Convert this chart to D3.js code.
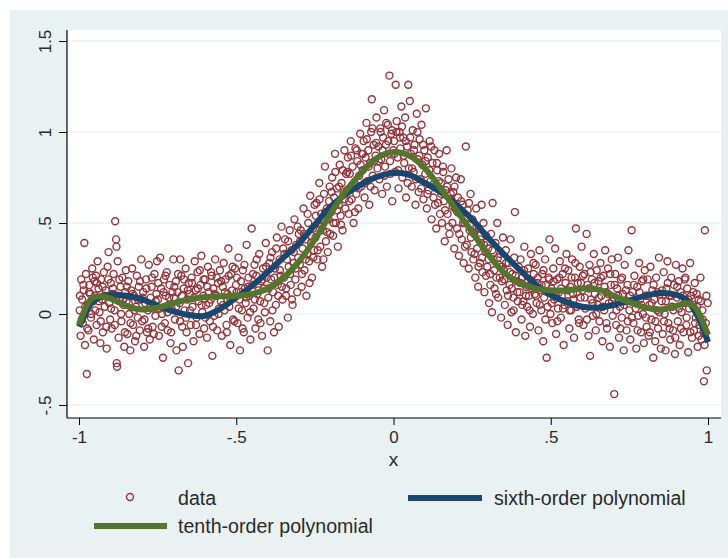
<!DOCTYPE html>
<html><head><meta charset="utf-8">
<script src="https://cdn.jsdelivr.net/npm/d3@7"></script>
<style>html,body{margin:0;padding:0;background:#fff}</style>
</head><body>
<svg id="chart" width="728" height="558"></svg>
<script>
// ---- data ----
const xTicks = [-1, -0.5, 0, 0.5, 1];
const xTickLabels = ["-1", "-.5", "0", ".5", "1"];
const yTicks = [-0.5, 0, 0.5, 1, 1.5];
const yTickLabels = ["-.5", "0", ".5", "1", "1.5"];
const xTitle = "x";
const legendLabels = ["data", "sixth-order polynomial", "tenth-order polynomial"];

const sixthX = [-1.0,-0.98,-0.96,-0.93,-0.9,-0.85,-0.8,-0.75,-0.7,-0.65,-0.6,-0.55,-0.5,-0.45,-0.4,-0.35,-0.3,-0.25,-0.2,-0.15,-0.1,-0.05,0,0.05,0.1,0.15,0.2,0.25,0.3,0.35,0.4,0.45,0.5,0.55,0.6,0.65,0.7,0.75,0.8,0.85,0.9,0.93,0.96,0.98,1.0];
const sixthY = [-0.07,0.0,0.06,0.095,0.105,0.10,0.08,0.045,0.015,-0.005,-0.01,0.03,0.09,0.155,0.23,0.31,0.39,0.49,0.59,0.66,0.715,0.755,0.775,0.765,0.72,0.67,0.60,0.52,0.42,0.33,0.245,0.165,0.105,0.065,0.04,0.035,0.05,0.075,0.10,0.115,0.105,0.08,0.01,-0.06,-0.155];
const tenthX = [-1.0,-0.98,-0.96,-0.94,-0.9,-0.85,-0.8,-0.75,-0.7,-0.65,-0.6,-0.55,-0.5,-0.45,-0.4,-0.35,-0.3,-0.25,-0.2,-0.15,-0.1,-0.05,0,0.05,0.1,0.15,0.2,0.25,0.3,0.35,0.4,0.45,0.5,0.55,0.6,0.65,0.7,0.75,0.8,0.85,0.9,0.93,0.96,0.98,1.0];
const tenthY = [-0.06,0.03,0.085,0.097,0.085,0.045,0.025,0.035,0.06,0.08,0.093,0.097,0.10,0.11,0.14,0.20,0.29,0.41,0.55,0.68,0.78,0.86,0.89,0.87,0.80,0.69,0.57,0.45,0.33,0.23,0.17,0.14,0.13,0.13,0.14,0.135,0.10,0.065,0.035,0.025,0.045,0.06,0.035,-0.03,-0.115];

// scattered observations (outer spread)
const pointsSpread = [
[-0.998,0.02],[-0.995,-0.12],[-0.993,0.19],[-0.99,0.08],[-0.988,-0.05],[-0.985,0.13],[-0.983,0.39],[-0.981,-0.17],[-0.978,0.22],[-0.975,-0.33],[-0.972,0.05],[-0.97,-0.09],[-0.967,0.16],[-0.964,0.11],[-0.962,-0.02],[-0.958,0.25],[-0.955,0.07],[-0.953,-0.14],[-0.951,0.18],
[-0.949,0.1],[-0.946,0.21],[-0.944,-0.06],[-0.941,0.29],[-0.938,0.14],[-0.935,0.01],[-0.932,-0.16],[-0.93,0.19],[-0.927,0.08],[-0.924,-0.1],[-0.921,0.23],[-0.918,0.04],[-0.915,0.13],[-0.912,-0.19],[-0.909,0.26],[-0.906,0.34],[-0.904,0.06],[-0.901,-0.03],
[-0.899,0.17],[-0.896,-0.08],[-0.893,0.11],[-0.89,0.22],[-0.887,0.02],[-0.885,0.51],[-0.882,0.41],[-0.881,0.37],[-0.88,-0.27],[-0.879,-0.29],[-0.877,0.29],[-0.874,-0.13],[-0.871,0.09],[-0.868,0.15],[-0.865,-0.04],[-0.862,0.2],[-0.859,0.05],[-0.856,-0.18],[-0.853,0.12],[-0.851,0.24],
[-0.849,0.07],[-0.846,-0.11],[-0.843,0.18],[-0.84,0.0],[-0.837,-0.2],[-0.834,0.13],[-0.831,0.25],[-0.828,-0.06],[-0.825,0.1],[-0.822,-0.15],[-0.819,0.04],[-0.816,0.21],[-0.813,-0.02],[-0.81,0.15],[-0.807,-0.09],[-0.804,0.08],[-0.802,0.3],
[-0.799,-0.04],[-0.796,0.12],[-0.793,-0.18],[-0.79,0.06],[-0.787,0.19],[-0.784,-0.1],[-0.781,0.02],[-0.778,0.27],[-0.775,-0.14],[-0.772,0.09],[-0.769,0.15],[-0.766,-0.07],[-0.763,0.03],[-0.76,0.22],[-0.757,-0.01],[-0.754,0.11],[-0.752,0.29],
[-0.749,0.08],[-0.746,-0.12],[-0.742,0.31],[-0.739,0.14],[-0.736,0.0],[-0.733,-0.24],[-0.73,0.19],[-0.727,-0.05],[-0.724,0.1],[-0.721,0.23],[-0.718,-0.09],[-0.715,0.05],[-0.712,0.16],[-0.709,-0.16],[-0.706,0.03],[-0.703,0.12],[-0.7,0.3],
[-0.698,0.09],[-0.695,-0.03],[-0.692,0.18],[-0.69,-0.2],[-0.687,0.12],[-0.683,-0.31],[-0.68,0.06],[-0.678,0.3],[-0.675,0.21],[-0.672,-0.07],[-0.67,-0.18],[-0.667,0.14],[-0.664,0.02],[-0.661,0.25],[-0.658,-0.1],[-0.655,0.08],[-0.653,-0.27],[-0.651,0.17],
[-0.648,0.11],[-0.645,-0.06],[-0.642,0.2],[-0.639,0.04],[-0.636,-0.15],[-0.632,0.29],[-0.629,0.13],[-0.626,-0.02],[-0.623,0.23],[-0.62,0.07],[-0.617,-0.11],[-0.614,0.16],[-0.611,0.32],[-0.608,0.01],[-0.605,0.1],[-0.602,-0.08],
[-0.599,0.19],[-0.596,0.05],[-0.593,-0.13],[-0.59,0.26],[-0.587,0.12],[-0.584,-0.04],[-0.581,0.08],[-0.578,0.21],[-0.576,-0.23],[-0.573,0.14],[-0.57,-0.01],[-0.567,0.3],[-0.564,0.1],[-0.561,-0.09],[-0.558,0.17],[-0.555,0.03],[-0.552,0.24],
[-0.549,0.07],[-0.546,-0.12],[-0.543,0.15],[-0.54,0.28],[-0.537,0.02],[-0.534,0.19],[-0.531,-0.06],[-0.528,0.11],[-0.525,0.36],[-0.522,0.04],[-0.519,-0.17],[-0.516,0.22],[-0.513,0.13],[-0.51,-0.03],[-0.507,0.09],[-0.504,0.25],[-0.501,0.16],
[-0.499,0.12],[-0.496,-0.05],[-0.493,0.31],[-0.49,0.08],[-0.488,-0.2],[-0.485,0.18],[-0.482,0.02],[-0.479,0.24],[-0.476,-0.1],[-0.473,0.14],[-0.47,0.06],[-0.467,0.38],[-0.464,-0.02],[-0.461,0.2],[-0.458,0.1],[-0.455,-0.14],[-0.451,0.47],
[-0.448,0.16],[-0.445,0.03],[-0.442,0.27],[-0.439,-0.08],[-0.436,0.21],[-0.433,0.11],[-0.43,-0.03],[-0.427,0.33],[-0.424,0.07],[-0.421,0.18],[-0.418,-0.12],[-0.415,0.25],[-0.412,0.14],[-0.409,0.01],[-0.406,0.39],[-0.403,0.2],[-0.4,-0.2],
[-0.398,0.09],[-0.395,0.28],[-0.392,-0.04],[-0.389,0.19],[-0.386,0.34],[-0.383,0.12],[-0.38,-0.1],[-0.377,0.25],[-0.374,0.05],[-0.371,0.42],[-0.368,0.16],[-0.365,-0.07],[-0.362,0.3],[-0.359,0.21],[-0.356,0.48],[-0.353,0.08],[-0.351,0.36],
[-0.348,0.2],[-0.345,0.41],[-0.342,0.1],[-0.339,0.3],[-0.336,-0.02],[-0.333,0.26],[-0.33,0.46],[-0.327,0.16],[-0.324,0.35],[-0.321,0.05],[-0.318,0.28],[-0.315,0.52],[-0.312,0.19],[-0.309,0.38],[-0.306,0.12],[-0.303,0.31],[-0.301,0.44],
[-0.298,0.27],[-0.295,0.46],[-0.292,0.15],[-0.289,0.36],[-0.286,0.58],[-0.283,0.24],[-0.28,0.41],[-0.277,0.1],[-0.274,0.33],[-0.271,0.5],[-0.268,0.29],[-0.265,0.65],[-0.262,0.39],[-0.259,0.2],[-0.256,0.47],[-0.253,0.35],[-0.251,0.6],
[-0.248,0.42],[-0.245,0.61],[-0.242,0.3],[-0.239,0.5],[-0.236,0.72],[-0.233,0.37],[-0.23,0.55],[-0.227,0.26],[-0.224,0.46],[-0.221,0.66],[-0.218,0.81],[-0.215,0.4],[-0.212,0.58],[-0.209,0.34],[-0.206,0.52],[-0.203,0.7],[-0.201,0.44],
[-0.198,0.56],[-0.195,0.75],[-0.192,0.43],[-0.189,0.64],[-0.186,0.88],[-0.183,0.5],[-0.18,0.69],[-0.177,0.37],[-0.174,0.6],[-0.171,0.82],[-0.168,0.54],[-0.165,0.72],[-0.162,0.46],[-0.159,0.66],[-0.156,0.9],[-0.153,0.58],[-0.151,0.77],
[-0.148,0.68],[-0.145,0.86],[-0.142,0.55],[-0.139,0.77],[-0.136,0.95],[-0.133,0.63],[-0.13,0.81],[-0.127,0.5],[-0.124,0.72],[-0.121,0.91],[-0.118,0.66],[-0.115,0.84],[-0.112,0.58],[-0.109,0.76],[-0.106,0.99],[-0.103,0.7],[-0.101,0.88],
[-0.098,0.79],[-0.095,0.95],[-0.092,0.64],[-0.089,0.86],[-0.086,1.05],[-0.083,0.73],[-0.08,0.9],[-0.077,0.6],[-0.074,0.83],[-0.071,1.0],[-0.069,1.18],[-0.066,0.76],[-0.063,0.93],[-0.06,0.68],[-0.057,0.87],[-0.054,1.08],[-0.051,0.8],
[-0.048,0.92],[-0.045,0.74],[-0.042,1.02],[-0.039,0.85],[-0.036,0.66],[-0.033,0.97],[-0.03,1.12],[-0.027,0.81],[-0.024,0.93],[-0.021,0.7],[-0.018,1.04],[-0.015,0.88],[-0.013,1.31],[-0.01,0.77],[-0.007,0.99],[-0.004,0.62],[-0.001,0.9],
[0.002,0.95],[0.005,0.78],[0.007,1.26],[0.01,1.06],[0.013,0.86],[0.016,0.69],[0.019,1.0],[0.022,0.91],[0.025,1.14],[0.028,0.75],[0.031,0.97],[0.034,0.83],[0.037,1.08],[0.04,0.64],[0.043,0.92],[0.047,1.26],[0.049,0.8],
[0.052,1.17],[0.055,0.88],[0.058,0.7],[0.061,1.01],[0.064,0.78],[0.067,0.93],[0.07,0.6],[0.074,1.1],[0.077,0.85],[0.08,0.67],[0.083,0.96],[0.086,0.74],[0.089,1.04],[0.092,0.82],[0.095,0.63],[0.098,0.9],
[0.101,0.77],[0.103,1.13],[0.106,0.58],[0.109,0.86],[0.112,0.68],[0.115,0.95],[0.118,0.73],[0.121,0.52],[0.124,0.83],[0.127,0.64],[0.13,0.9],[0.133,0.7],[0.136,0.47],[0.139,0.79],[0.142,0.61],[0.145,0.88],[0.148,0.55],
[0.151,0.72],[0.154,0.5],[0.157,0.81],[0.16,0.62],[0.163,0.4],[0.166,0.68],[0.169,0.9],[0.172,0.55],[0.175,0.74],[0.178,0.44],[0.181,0.63],[0.184,0.8],[0.187,0.5],[0.19,0.67],[0.193,0.36],[0.196,0.58],[0.199,0.75],
[0.202,0.47],[0.205,0.64],[0.208,0.32],[0.211,0.55],[0.214,0.74],[0.217,0.41],[0.22,0.6],[0.223,0.28],[0.226,0.5],[0.23,0.92],[0.233,0.38],[0.236,0.57],[0.239,0.25],[0.242,0.46],[0.245,0.66],[0.248,0.34],
[0.251,0.52],[0.254,0.3],[0.257,0.44],[0.26,0.2],[0.263,0.58],[0.266,0.36],[0.269,0.15],[0.272,0.47],[0.275,0.28],[0.278,0.39],[0.28,0.6],[0.283,0.23],[0.286,0.5],[0.289,0.12],[0.292,0.34],[0.295,0.43],[0.298,0.26],
[0.301,0.36],[0.304,0.06],[0.307,0.22],[0.31,0.44],[0.313,0.01],[0.315,0.61],[0.318,0.3],[0.321,0.14],[0.324,0.39],[0.327,0.2],[0.33,0.5],[0.333,0.09],[0.336,0.27],[0.339,0.33],[0.342,-0.02],[0.345,0.18],[0.348,0.42],
[0.351,0.24],[0.354,0.05],[0.357,0.35],[0.36,0.13],[0.363,-0.06],[0.366,0.28],[0.369,0.16],[0.372,0.41],[0.375,0.01],[0.378,0.22],[0.381,0.09],[0.384,0.31],[0.386,0.56],[0.389,-0.1],[0.392,0.18],[0.395,0.07],[0.398,0.26],
[0.401,0.12],[0.404,0.3],[0.407,-0.03],[0.41,0.2],[0.413,0.07],[0.416,0.37],[0.419,-0.12],[0.422,0.15],[0.425,0.04],[0.428,0.25],[0.431,0.1],[0.434,-0.07],[0.437,0.33],[0.44,0.18],[0.443,0.0],[0.446,0.22],[0.449,0.11],
[0.452,0.27],[0.455,0.06],[0.458,0.17],[0.461,-0.09],[0.464,0.35],[0.467,0.13],[0.47,0.02],[0.473,0.22],[0.476,-0.15],[0.479,0.09],[0.482,0.3],[0.485,0.16],[0.487,-0.24],[0.49,0.04],[0.493,0.2],[0.496,0.41],[0.499,0.0],
[0.502,0.14],[0.505,-0.05],[0.508,0.25],[0.511,0.08],[0.514,0.36],[0.517,-0.11],[0.52,0.19],[0.523,0.03],[0.526,0.12],[0.529,0.29],[0.532,-0.02],[0.535,0.1],[0.538,0.22],[0.541,-0.17],[0.544,0.05],[0.547,0.17],[0.55,0.33],
[0.553,0.07],[0.556,0.24],[0.559,-0.08],[0.562,0.15],[0.565,0.02],[0.568,0.3],[0.571,0.11],[0.574,-0.13],[0.577,0.2],[0.58,0.47],[0.583,0.04],[0.586,0.17],[0.589,-0.03],[0.592,0.26],[0.595,0.09],[0.598,0.37],
[0.601,0.13],[0.604,-0.06],[0.607,0.22],[0.61,0.03],[0.614,0.44],[0.617,0.16],[0.62,-0.12],[0.623,0.27],[0.625,-0.23],[0.628,0.08],[0.631,0.19],[0.634,-0.01],[0.637,0.33],[0.64,0.11],[0.643,-0.09],[0.646,0.24],[0.649,0.05],
[0.652,0.18],[0.655,-0.04],[0.658,0.28],[0.661,0.1],[0.664,-0.15],[0.667,0.21],[0.67,0.02],[0.673,0.35],[0.676,0.12],[0.679,-0.08],[0.682,0.25],[0.685,0.06],[0.688,-0.18],[0.691,0.16],[0.694,0.3],[0.697,-0.01],
[0.7,0.09],[0.702,-0.44],[0.705,0.22],[0.708,-0.06],[0.711,0.14],[0.714,0.31],[0.717,-0.13],[0.72,0.04],[0.723,0.19],[0.726,-0.02],[0.729,0.11],[0.732,-0.2],[0.735,0.27],[0.738,0.07],[0.741,-0.09],[0.744,0.16],[0.747,0.35],
[0.75,0.02],[0.753,-0.14],[0.757,0.46],[0.76,0.12],[0.763,-0.05],[0.766,0.21],[0.769,0.06],[0.772,-0.19],[0.775,0.15],[0.778,-0.01],[0.781,0.28],[0.784,0.08],[0.787,-0.1],[0.79,0.18],[0.793,0.0],[0.796,-0.16],[0.799,0.24],
[0.802,0.1],[0.805,-0.07],[0.808,0.19],[0.811,-0.12],[0.814,0.05],[0.817,0.26],[0.82,-0.03],[0.823,0.13],[0.826,-0.24],[0.829,0.08],[0.832,-0.15],[0.835,0.2],[0.838,0.02],[0.841,-0.08],[0.844,0.31],[0.847,0.11],[0.85,-0.19],
[0.853,0.07],[0.856,-0.11],[0.859,0.23],[0.862,0.0],[0.865,-0.2],[0.868,0.14],[0.871,0.29],[0.874,-0.05],[0.877,0.1],[0.88,-0.14],[0.883,0.2],[0.886,0.04],[0.889,-0.09],[0.892,0.16],[0.895,-0.22],[0.898,0.27],
[0.901,0.09],[0.904,-0.04],[0.907,0.18],[0.91,-0.17],[0.913,0.12],[0.916,0.01],[0.919,0.25],[0.922,-0.1],[0.925,0.06],[0.928,0.2],[0.931,-0.06],[0.934,0.14],[0.937,-0.21],[0.94,0.03],[0.943,0.28],[0.946,0.1],[0.949,-0.13],
[0.952,0.05],[0.955,-0.09],[0.958,0.17],[0.961,-0.02],[0.964,0.11],[0.967,-0.18],[0.97,0.08],[0.973,-0.06],[0.976,0.2],[0.979,-0.14],[0.982,0.02],[0.985,-0.1],[0.987,-0.37],[0.99,0.46],[0.993,-0.05],[0.996,-0.31],[0.999,0.06]
];

// scattered observations (dense core)
const pointsCore = [
[-0.997,0.1],[-0.991,-0.03],[-0.986,0.16],[-0.98,0.04],[-0.974,-0.08],[-0.968,0.12],[-0.961,0.0],[-0.956,0.2],
[-0.948,0.02],[-0.943,0.17],[-0.937,0.07],[-0.931,-0.04],[-0.925,0.15],[-0.919,0.1],[-0.913,-0.07],[-0.907,0.19],
[-0.898,0.03],[-0.892,0.14],[-0.886,-0.06],[-0.878,0.1],[-0.872,0.19],[-0.866,0.0],[-0.86,0.08],[-0.854,-0.1],
[-0.848,0.15],[-0.842,0.06],[-0.836,-0.05],[-0.83,0.11],[-0.824,0.02],[-0.818,-0.12],[-0.812,0.08],[-0.806,0.18],
[-0.798,0.09],[-0.792,-0.03],[-0.786,0.14],[-0.78,-0.08],[-0.774,0.04],[-0.768,0.2],[-0.762,-0.11],[-0.756,0.07],
[-0.748,0.17],[-0.743,0.03],[-0.737,-0.07],[-0.731,0.12],[-0.725,0.21],[-0.719,0.01],[-0.713,0.09],[-0.707,-0.1],
[-0.697,0.15],[-0.691,0.04],[-0.685,0.22],[-0.679,-0.04],[-0.673,0.1],[-0.666,0.19],[-0.66,-0.02],[-0.654,0.13],
[-0.647,0.02],[-0.641,0.17],[-0.635,0.09],[-0.628,-0.06],[-0.622,0.14],[-0.616,0.24],[-0.61,0.05],[-0.604,0.19],
[-0.598,-0.02],[-0.592,0.15],[-0.586,0.06],[-0.58,0.23],[-0.574,-0.07],[-0.568,0.11],[-0.562,0.2],[-0.556,0.0],
[-0.548,0.18],[-0.542,0.05],[-0.536,0.12],[-0.53,-0.1],[-0.524,0.21],[-0.518,0.08],[-0.512,0.26],[-0.506,-0.04],
[-0.498,0.2],[-0.492,0.03],[-0.486,0.12],[-0.48,-0.08],[-0.474,0.27],[-0.468,0.09],[-0.462,0.15],[-0.456,0.01],
[-0.447,0.22],[-0.441,0.08],[-0.435,0.3],[-0.429,0.13],[-0.423,-0.05],[-0.417,0.19],[-0.411,0.06],[-0.405,0.26],
[-0.397,0.14],[-0.391,0.31],[-0.385,0.02],[-0.379,0.2],[-0.373,0.36],[-0.367,0.1],[-0.361,0.24],[-0.355,0.15],
[-0.347,0.33],[-0.341,0.14],[-0.335,0.4],[-0.329,0.22],[-0.323,0.08],[-0.317,0.34],[-0.311,0.25],[-0.305,0.48],
[-0.297,0.4],[-0.291,0.22],[-0.285,0.44],[-0.279,0.3],[-0.273,0.55],[-0.267,0.17],[-0.261,0.43],[-0.255,0.31],
[-0.247,0.54],[-0.241,0.35],[-0.235,0.63],[-0.229,0.48],[-0.223,0.3],[-0.217,0.56],[-0.211,0.45],[-0.205,0.62],
[-0.197,0.67],[-0.191,0.5],[-0.185,0.78],[-0.179,0.57],[-0.173,0.7],[-0.167,0.49],[-0.161,0.79],[-0.155,0.63],
[-0.147,0.78],[-0.141,0.62],[-0.135,0.87],[-0.129,0.71],[-0.123,0.56],[-0.117,0.9],[-0.111,0.69],[-0.105,0.82],
[-0.097,0.88],[-0.091,0.72],[-0.085,0.96],[-0.079,0.81],[-0.073,0.7],[-0.067,1.02],[-0.061,0.84],[-0.055,0.94],
[-0.047,0.84],[-0.041,1.0],[-0.035,0.9],[-0.029,0.76],[-0.023,1.05],[-0.017,0.95],[-0.011,0.84],[-0.005,1.01],
[0.003,0.88],[0.009,1.0],[0.015,0.79],[0.021,0.97],[0.027,1.03],[0.033,0.87],[0.039,0.95],[0.045,0.72],
[0.053,0.97],[0.059,0.8],[0.065,0.9],[0.071,0.74],[0.076,1.0],[0.082,0.87],[0.088,0.69],[0.094,0.93],
[0.102,0.84],[0.108,0.66],[0.114,0.79],[0.12,0.92],[0.126,0.71],[0.132,0.6],[0.138,0.83],[0.144,0.73],
[0.152,0.66],[0.158,0.78],[0.164,0.57],[0.17,0.7],[0.176,0.48],[0.182,0.66],[0.188,0.59],[0.194,0.7],
[0.203,0.56],[0.209,0.44],[0.215,0.62],[0.221,0.5],[0.227,0.37],[0.234,0.53],[0.24,0.61],[0.246,0.42],
[0.252,0.45],[0.258,0.33],[0.264,0.48],[0.27,0.26],[0.276,0.41],[0.282,0.31],[0.288,0.38],[0.294,0.21],
[0.302,0.3],[0.308,0.16],[0.314,0.35],[0.32,0.24],[0.326,0.11],[0.332,0.31],[0.338,0.2],[0.344,0.26],
[0.352,0.19],[0.358,0.28],[0.364,0.1],[0.37,0.23],[0.376,0.14],[0.382,0.02],[0.388,0.21],[0.394,0.12],
[0.403,0.17],[0.409,0.05],[0.415,0.24],[0.421,0.1],[0.427,0.19],[0.433,0.02],[0.439,0.14],[0.445,0.28],
[0.453,0.1],[0.459,0.2],[0.465,0.05],[0.471,0.16],[0.477,0.24],[0.483,-0.03],[0.489,0.12],[0.495,0.19],
[0.503,0.06],[0.509,0.18],[0.515,0.1],[0.521,-0.04],[0.527,0.2],[0.533,0.14],[0.539,0.03],[0.545,0.25],
[0.554,0.13],[0.56,0.02],[0.566,0.2],[0.572,0.08],[0.578,0.28],[0.584,0.12],[0.59,-0.05],[0.596,0.17],
[0.602,0.21],[0.608,0.09],[0.615,-0.03],[0.621,0.14],[0.627,0.23],[0.633,0.06],[0.639,0.17],[0.645,0.0],
[0.653,0.09],[0.659,0.2],[0.665,0.04],[0.671,0.15],[0.677,-0.05],[0.683,0.11],[0.689,0.22],[0.695,0.07],
[0.703,0.16],[0.709,0.02],[0.715,0.1],[0.721,-0.08],[0.727,0.2],[0.733,0.05],[0.739,0.13],[0.745,-0.04],
[0.752,0.1],[0.758,-0.02],[0.764,0.16],[0.77,0.03],[0.776,-0.09],[0.782,0.12],[0.788,0.05],[0.794,0.19],
[0.803,-0.02],[0.809,0.1],[0.815,-0.1],[0.821,0.06],[0.827,0.16],[0.833,-0.04],[0.839,0.12],[0.845,0.01],
[0.854,0.13],[0.86,-0.04],[0.866,0.07],[0.872,0.17],[0.878,-0.08],[0.884,0.1],[0.89,0.02],[0.896,-0.13],
[0.902,0.15],[0.908,0.03],[0.914,-0.08],[0.92,0.1],[0.926,0.19],[0.932,-0.02],[0.938,0.08],[0.944,-0.1],
[0.953,0.12],[0.959,-0.05],[0.965,0.04],[0.971,-0.12],[0.977,0.07],[0.983,-0.03],[0.989,-0.17],[0.995,0.1]
];

// ---- drawing ----
const W = 728, H = 558;
const C = { bg: "#e9f1f3", grid: "#e6eef0", data: "#90353b", sixth: "#1a476f", tenth: "#55752f", text: "#2a2a2a" };
const font = "'Liberation Sans', Arial, Helvetica, sans-serif";
const plot = { left: 67, right: 721, top: 30, bottom: 418 };
const points = pointsSpread.concat(pointsCore);

const svg = d3.select("#chart");
svg.append("rect").attr("x", 10).attr("y", 10).attr("width", W - 10).attr("height", H - 10).attr("fill", C.bg);
svg.append("rect").attr("x", plot.left).attr("y", plot.top)
  .attr("width", plot.right - plot.left).attr("height", plot.bottom - plot.top).attr("fill", "#fff");

const x = d3.scaleLinear().domain([-1, 1]).range([79, 708]);
const y = d3.scaleLinear().domain([0, 1]).range([314, 132]);

// gridlines
svg.append("g").selectAll("line").data(yTicks).join("line")
  .attr("x1", plot.left).attr("x2", plot.right)
  .attr("y1", d => y(d)).attr("y2", d => y(d))
  .attr("stroke", C.grid).attr("stroke-width", 1.2);

// scatter
svg.append("g").selectAll("circle").data(points).join("circle")
  .attr("cx", d => x(d[0])).attr("cy", d => y(d[1])).attr("r", 3.5)
  .attr("fill", "none").attr("stroke", C.data).attr("stroke-width", 1.4);

// fitted curves
const line = d3.line().x(d => x(d[0])).y(d => y(d[1])).curve(d3.curveCatmullRom.alpha(0.5));
svg.append("path").datum(sixthX.map((v, i) => [v, sixthY[i]])).attr("d", line)
  .attr("fill", "none").attr("stroke", C.sixth).attr("stroke-width", 6);
svg.append("path").datum(tenthX.map((v, i) => [v, tenthY[i]])).attr("d", line)
  .attr("fill", "none").attr("stroke", C.tenth).attr("stroke-width", 6);

// axes
const yAxis = d3.axisLeft(y).tickValues(yTicks).tickSize(8).tickFormat((d, i) => yTickLabels[i]);
const gy = svg.append("g").attr("transform", `translate(${plot.left},0)`).call(yAxis);
gy.select(".domain").attr("d", `M0,${plot.top}V${plot.bottom}`).attr("stroke", "#000").attr("stroke-width", 1.2);
gy.selectAll(".tick line").attr("stroke", "#000").attr("stroke-width", 1);
gy.selectAll(".tick text")
  .attr("x", null).attr("dy", null)
  .attr("transform", "translate(-16,0) rotate(-90)")
  .attr("text-anchor", "middle")
  .attr("font-family", font).attr("font-size", 17).attr("fill", C.text);

const xAxis = d3.axisBottom(x).tickValues(xTicks).tickSize(7).tickFormat((d, i) => xTickLabels[i]);
const gx = svg.append("g").attr("transform", `translate(0,${plot.bottom})`).call(xAxis);
gx.select(".domain").attr("d", `M${plot.left},0H${plot.right}`).attr("stroke", "#000").attr("stroke-width", 1.2);
gx.selectAll(".tick line").attr("stroke", "#000").attr("stroke-width", 1);
gx.selectAll(".tick text").attr("y", 25).attr("dy", null)
  .attr("font-family", font).attr("font-size", 17).attr("fill", C.text);

svg.append("text").attr("x", x(0)).attr("y", 466).attr("text-anchor", "middle")
  .attr("font-family", font).attr("font-size", 19).attr("fill", C.text).text(xTitle);

// legend
const lg = svg.append("g").attr("font-family", font).attr("font-size", 19.6).attr("fill", C.text);
lg.append("circle").attr("cx", 130).attr("cy", 497).attr("r", 3.5)
  .attr("fill", "none").attr("stroke", C.data).attr("stroke-width", 1.4);
lg.append("text").attr("x", 178).attr("y", 505).text(legendLabels[0]);
lg.append("line").attr("x1", 408).attr("x2", 482).attr("y1", 498).attr("y2", 498)
  .attr("stroke", C.sixth).attr("stroke-width", 6);
lg.append("text").attr("x", 494).attr("y", 505).text(legendLabels[1]);
lg.append("line").attr("x1", 94).attr("x2", 167).attr("y1", 526).attr("y2", 526)
  .attr("stroke", C.tenth).attr("stroke-width", 6);
lg.append("text").attr("x", 178).attr("y", 533).text(legendLabels[2]);
</script>
</body></html>
